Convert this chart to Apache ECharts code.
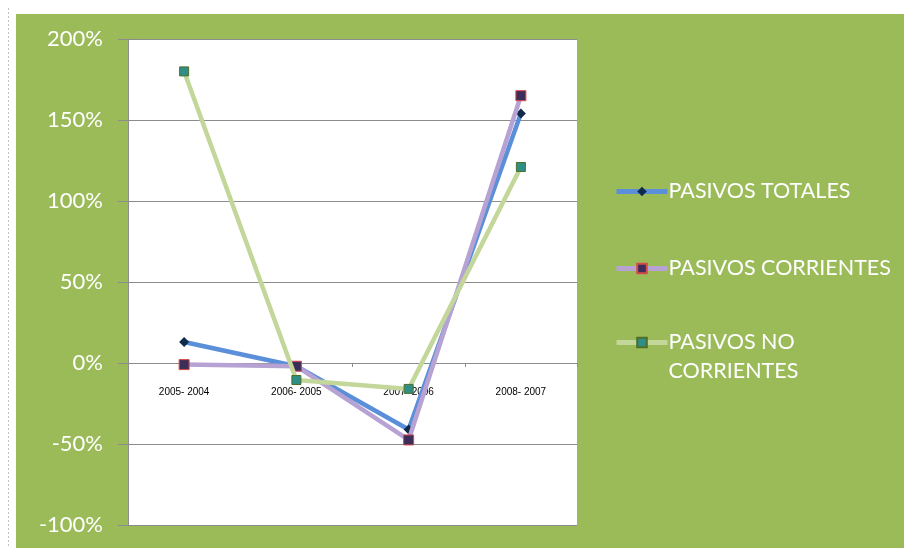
<!DOCTYPE html>
<html>
<head>
<meta charset="utf-8">
<script src="https://cdn.jsdelivr.net/npm/echarts@6/dist/echarts.min.js"></script>
<style>
  html, body { margin: 0; padding: 0; background: #ffffff; }
  #chart { width: 904px; height: 548px; }
</style>
</head>
<body>
<div id="chart"></div>
<script>
// Periods compared (year-over-year change)
const categories = ['2005- 2004', '2006- 2005', '2007- 2006', '2008- 2007'];

// Percentage variation of each liability group
const pasivosTotales = [13, -2, -41, 154];
const pasivosCorrientes = [-1, -2, -47.5, 165];
const pasivosNoCorrientes = [180, -10.5, -16, 121];

// Value axis range
const yMin = -100;
const yMax = 200;
const yStep = 50;

const FONT = 'Lato, "Open Sans", sans-serif';

const W = 904, H = 548;
const GRID = { left: 128, top: 39, right: 327, bottom: 23 };
const plotHeight = H - GRID.top - GRID.bottom;
// Lift the category axis from the bottom edge up to the 0% line
const zeroOffset = -((0 - yMin) / (yMax - yMin)) * plotHeight;

const chart = echarts.init(document.getElementById('chart'), null, { renderer: 'canvas' });

// One legend block per series so each entry can be placed on its own row
function legendBlock(name, top, label) {
  return {
    data: [name],
    orient: 'vertical',
    left: 614,
    top: top,
    padding: 0,
    itemWidth: 51,
    itemHeight: 12,
    itemGap: 0,
    formatter: () => label,
    lineStyle: { width: 5 },
    textStyle: {
      color: '#ffffff',
      fontFamily: FONT,
      fontSize: 21.5,
      lineHeight: 29,
      padding: [0, 0, 0, -4]
    },
    selectedMode: false
  };
}

const option = {
  backgroundColor: 'transparent',
  animation: false,
  graphic: [
    {
      type: 'line',
      z: -10,
      shape: { x1: 8.5, y1: 8, x2: 8.5, y2: 548 },
      style: { stroke: '#bfbfbf', lineWidth: 1, lineDash: [2, 2] }
    },
    {
      type: 'rect',
      z: -9,
      shape: { x: 16, y: 14, width: 888, height: 534 },
      style: { fill: '#9bbb59' }
    }
  ],
  grid: {
    left: GRID.left,
    top: GRID.top,
    right: GRID.right,
    bottom: GRID.bottom,
    outerBoundsMode: 'none',
    containLabel: false,
    show: true,
    backgroundColor: '#ffffff',
    borderWidth: 0
  },
  legend: [
    legendBlock('PASIVOS TOTALES', 177, 'PASIVOS TOTALES'),
    legendBlock('PASIVOS CORRIENTES', 254, 'PASIVOS CORRIENTES'),
    legendBlock('PASIVOS NO CORRIENTES', 299, '\nPASIVOS NO\nCORRIENTES')
  ],
  xAxis: {
    type: 'category',
    data: categories,
    boundaryGap: true,
    offset: zeroOffset,
    axisLine: { onZero: false, lineStyle: { color: '#8c8c8c', width: 1 } },
    axisTick: { show: true, length: 4, lineStyle: { color: '#8c8c8c' } },
    axisLabel: {
      color: '#000000',
      fontFamily: '"Liberation Sans Narrow", "Liberation Sans", sans-serif',
      fontSize: 10,
      margin: 24
    },
    splitLine: { show: false }
  },
  yAxis: {
    type: 'value',
    min: yMin,
    max: yMax,
    interval: yStep,
    axisLine: { show: true, lineStyle: { color: '#8c8c8c', width: 1 } },
    axisTick: { show: true, inside: false, length: 10, lineStyle: { color: '#8c8c8c' } },
    axisLabel: {
      color: '#ffffff',
      fontFamily: FONT,
      fontSize: 22,
      margin: 25,
      formatter: v => v + '%'
    },
    splitLine: { show: true, lineStyle: { color: '#8c8c8c', width: 1 } }
  },
  series: [
    {
      name: 'PASIVOS TOTALES',
      type: 'line',
      data: pasivosTotales,
      symbol: 'diamond',
      symbolSize: 10,
      lineStyle: { color: '#5b8fd9', width: 4.5 },
      itemStyle: { color: '#0f2a4a', borderColor: '#0f2a4a', borderWidth: 0 },
      z: 2
    },
    {
      name: 'PASIVOS CORRIENTES',
      type: 'line',
      data: pasivosCorrientes,
      symbol: 'rect',
      symbolSize: 10,
      lineStyle: { color: '#b7a2d4', width: 4.5 },
      itemStyle: { color: '#3b2e58', borderColor: '#d9484a', borderWidth: 1 },
      z: 3
    },
    {
      name: 'PASIVOS NO CORRIENTES',
      type: 'line',
      data: pasivosNoCorrientes,
      symbol: 'rect',
      symbolSize: 9,
      lineStyle: { color: '#c3d79a', width: 4.5 },
      itemStyle: { color: '#2e8f86', borderColor: '#4f6e2a', borderWidth: 1 },
      z: 4
    }
  ]
};

chart.setOption(option);
</script>
</body>
</html>
